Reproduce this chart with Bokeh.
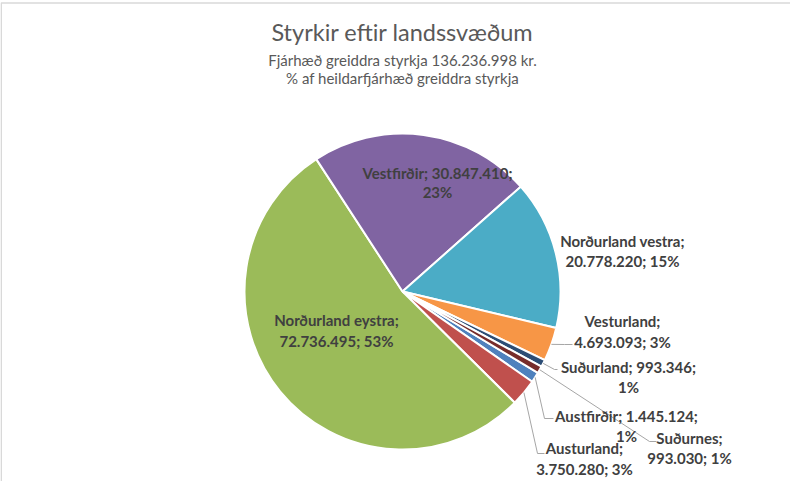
import math
from bokeh.plotting import figure
from bokeh.models import Range1d, ColumnDataSource
from bokeh.core.properties import value
from bokeh.embed import file_html
from bokeh.resources import INLINE

# ---------------- data ----------------
regions = ["Austfirðir", "Austurland", "Norðurland eystra", "Vestfirðir",
           "Norðurland vestra", "Vesturland", "Suðurland", "Suðurnes"]
amounts = [1445124, 3750280, 72736495, 30847410, 20778220, 4693093, 993346, 993030]
colors = ["#4F81BD", "#C0504D", "#9BBB59", "#8064A2", "#4BACC6", "#F79646", "#2C4D75", "#772C2A"]

title = "Styrkir eftir landssvæðum"
subtitle1 = "Fjárhæð greiddra styrkja 136.236.998 kr."
subtitle2 = "% af heildarfjárhæð greiddra styrkja"

# ---------------- layout ----------------
W, H = 790, 481
PAGE_H = 497
CX, CY, R = 410, 299, 158          # page coords of pie centre / radius
FIRST_ANGLE = 121.0                # degrees clockwise from 12 o'clock

def Y(py):
    return PAGE_H - py

p = figure(width=W, height=H, output_backend="svg", toolbar_location=None,
           x_range=Range1d(8, 8 + W), y_range=Range1d(PAGE_H - 8 - H, PAGE_H - 8),
           x_axis_location=None, y_axis_location=None, min_border=0)
p.grid.visible = False
p.outline_line_color = None
p.background_fill_color = "white"
p.border_fill_color = "white"

# chart border
p.line(x=[8.7, 8.7, 806], y=[Y(497), Y(10.5), Y(10.5)], line_color="#d9d9d9", line_width=1.6)

total = sum(amounts)
starts, ends, mids = [], [], []
acc = FIRST_ANGLE
for v in amounts:
    a0 = acc
    a1 = acc + 360.0 * v / total
    starts.append(math.radians(90 - a0))
    ends.append(math.radians(90 - a1))
    mids.append((a0 + a1) / 2)
    acc = a1

src = ColumnDataSource(dict(start=starts, end=ends, color=colors))
p.wedge(x=CX, y=Y(CY), radius=R, start_angle="start", end_angle="end",
        direction="clock", fill_color="color", line_color="white", line_width=2,
        source=src)

def fmt(n):
    return f"{n:,}".replace(",", ".")

# label layout: (centre x, line1 y, line2 y, break after name?)
lab = {
    "Vestfirðir": (445, 180, 199, False),
    "Norðurland eystra": (344, 327, 348, True),
    "Norðurland vestra": (630, 248, 268, True),
    "Vesturland": (630, 328, 349, True),
    "Suðurland": (636, 374, 394, False),
    "Austfirðir": (634, 423, 443, False),
    "Suðurnes": (697, 445, 465, True),
    "Austurland": (592, 455, 476, True),
}

tx, ty, tt = [], [], []
for name, v in zip(regions, amounts):
    pct = round(100 * v / total)
    x, y1, y2, brk = lab[name]
    if brk:
        l1, l2 = f"{name};", f"{fmt(v)}; {pct}%"
    else:
        l1, l2 = f"{name}; {fmt(v)};", f"{pct}%"
    tx += [x, x]
    ty += [Y(y1), Y(y2)]
    tt += [l1, l2]

# leader lines (anchor on the slice edge at mid angle)
leader = {
    "Vesturland": [(572, 352), (580, 352)],
    "Suðurland": [(562, 377), (565, 377)],
    "Austfirðir": [(552, 426), (561, 426)],
    "Suðurnes": [(657, 449), (664, 449)],
    "Austurland": [(545, 461), (552, 461)],
}
lxs, lys = [], []
for name, m in zip(regions, mids):
    if name in leader:
        ax = CX + R * math.sin(math.radians(m))
        ay = CY - R * math.cos(math.radians(m))
        pts = [(ax, ay)] + leader[name]
        lxs.append([q[0] for q in pts])
        lys.append([Y(q[1]) for q in pts])
p.multi_line(xs=lxs, ys=lys, line_color="#a6a6a6", line_width=1)

p.text(x=tx, y=ty, text=tt, text_font=value("Lato"), text_font_style="bold",
       text_font_size="15px", text_color="#404040", text_align="center",
       text_baseline="middle")

p.text(x=[410], y=[Y(39)], text=[title], text_font=value("Lato"),
       text_font_size="23.5px", text_color="#595959", text_align="center",
       text_baseline="middle")
p.text(x=[410, 410], y=[Y(67), Y(85)], text=[subtitle1, subtitle2],
       text_font=value("Lato"), text_font_size="15px", text_color="#595959",
       text_align="center", text_baseline="middle")

open("out.html", "w").write(file_html(p, INLINE))
